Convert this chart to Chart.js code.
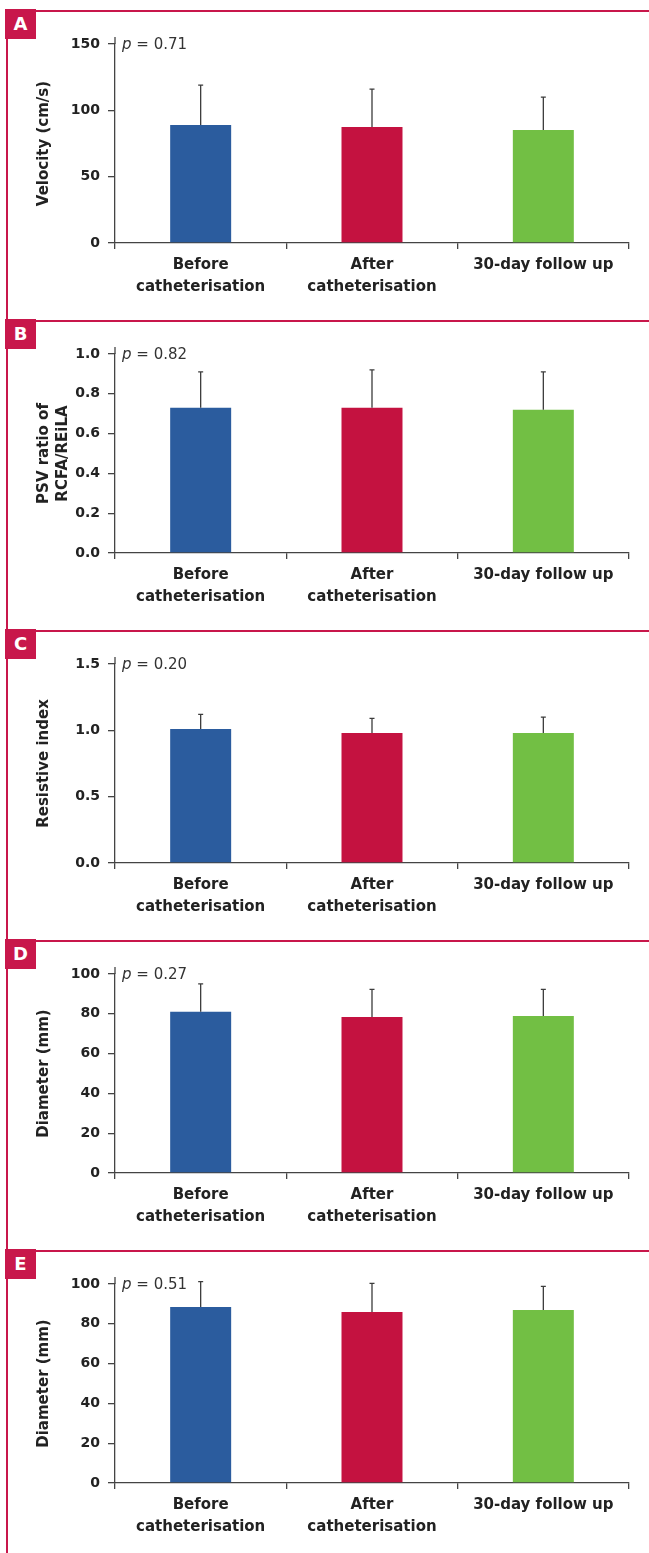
<!DOCTYPE html>
<html>
<head>
<meta charset="utf-8">
<script src="https://cdn.jsdelivr.net/npm/chart.js@4.4.1/dist/chart.umd.min.js"></script>
<style>
  body { margin: 0; background: #fff; }
  #page { position: relative; width: 649px; height: 1553px; overflow: hidden; }
  .panel { position: absolute; left: 0; width: 649px; height: 310px; }
  .panel canvas { position: absolute; left: 0; top: 0; }
  .rule { position: absolute; left: 30px; right: 0; top: 10px; height: 2px; background: #c8174b; }
  .tag { position: absolute; left: 5px; top: 9px; width: 31px; height: 30px; background: #c8174b;
         color: #fff; font: bold 18px "DejaVu Sans"; text-align: center; line-height: 30px; }
  #spine { position: absolute; left: 6px; top: 30px; width: 2px; bottom: 0; background: #c8174b; }
</style>
</head>
<body>
<div id="page"><div id="spine"></div></div>
<script>
const categories = [["Before", "catheterisation"], ["After", "catheterisation"], "30-day follow up"];
const barColors = ["#2b5c9e", "#c41240", "#72bf44"];

const velocityMean = [89, 87.4, 85.2];
const velocityUpper = [119, 116, 110];
const velocityTicks = [0, 50, 100, 150];

const psvMean = [0.73, 0.73, 0.72];
const psvUpper = [0.91, 0.92, 0.91];
const psvTicks = [0, 0.2, 0.4, 0.6, 0.8, 1.0];

const resistiveMean = [1.01, 0.98, 0.98];
const resistiveUpper = [1.12, 1.09, 1.10];
const resistiveTicks = [0, 0.5, 1.0, 1.5];

const diameterDMean = [81, 78.4, 78.9];
const diameterDUpper = [95, 92.3, 92.3];
const diameterEMean = [88.4, 85.9, 86.9];
const diameterEUpper = [101.2, 100.3, 98.8];
const diameterTicks = [0, 20, 40, 60, 80, 100];

const panelLetters = ["A", "B", "C", "D", "E"];
const pValues = ["0.71", "0.82", "0.20", "0.27", "0.51"];

const axisColor = "#444";
const textColor = "#222";
const fontFamily = "DejaVu Sans";

const panels = [
  { mean: velocityMean, upper: velocityUpper, ticks: velocityTicks, decimals: 0, title: "Velocity (cm/s)" },
  { mean: psvMean, upper: psvUpper, ticks: psvTicks, decimals: 1, title: ["PSV ratio of", "RCFA/REiLA"] },
  { mean: resistiveMean, upper: resistiveUpper, ticks: resistiveTicks, decimals: 1, title: "Resistive index" },
  { mean: diameterDMean, upper: diameterDUpper, ticks: diameterTicks, decimals: 0, title: "Diameter (mm)" },
  { mean: diameterEMean, upper: diameterEUpper, ticks: diameterTicks, decimals: 0, title: "Diameter (mm)" },
];

const page = document.getElementById("page");

panels.forEach((p, i) => {
  const box = document.createElement("div");
  box.className = "panel";
  box.style.top = (310 * i) + "px";
  box.innerHTML = `<canvas width="649" height="310"></canvas><div class="rule"></div><div class="tag">${panelLetters[i]}</div>`;
  page.appendChild(box);
  const ctx = box.querySelector("canvas").getContext("2d");

  // error bars, p value and the bit of y axis above the top tick
  const extras = {
    id: "extras" + i,
    afterDatasetsDraw(chart) {
      const c = chart.ctx;
      const y = chart.scales.y;
      c.save();
      c.strokeStyle = "#3c3c3c";
      c.lineWidth = 1.3;
      chart.getDatasetMeta(0).data.forEach((bar, k) => {
        const top = y.getPixelForValue(p.upper[k]);
        c.beginPath();
        c.moveTo(bar.x, bar.y);
        c.lineTo(bar.x, top);
        c.moveTo(bar.x - 2.5, top);
        c.lineTo(bar.x + 2.5, top);
        c.stroke();
      });
      c.restore();
    },
    afterDraw(chart) {
      const c = chart.ctx;
      const area = chart.chartArea;
      c.save();
      c.strokeStyle = axisColor;
      c.lineWidth = 1.3;
      c.beginPath();
      c.moveTo(area.left, area.top - 7);
      c.lineTo(area.left, area.top);
      c.stroke();
      c.fillStyle = "#333";
      c.textBaseline = "middle";
      c.font = "italic 15px " + fontFamily;
      const x0 = area.left + 7;
      c.fillText("p", x0, area.top + 1);
      const w = c.measureText("p").width;
      c.font = "15px " + fontFamily;
      c.fillText(" = " + pValues[i], x0 + w, area.top + 1);
      c.restore();
    }
  };

  new Chart(ctx, {
    type: "bar",
    data: {
      labels: categories,
      datasets: [{
        data: p.mean,
        backgroundColor: barColors,
        categoryPercentage: 1,
        barPercentage: 0.356,
      }],
    },
    options: {
      responsive: false,
      animation: false,
      devicePixelRatio: 1,
      layout: { padding: { left: 0, right: 20, top: 44, bottom: 0 } },
      plugins: { legend: { display: false }, tooltip: { enabled: false } },
      scales: {
        x: {
          z: 1,
          afterFit: (s) => { s.height = 67; },
          grid: { drawOnChartArea: false, tickLength: 6, color: axisColor, lineWidth: 1.3, offset: true },
          border: { display: true, color: axisColor, width: 1.3 },
          ticks: {
            padding: 5, color: textColor, maxRotation: 0, autoSkip: false,
            font: { family: fontFamily, weight: "bold", size: 15, lineHeight: 1.47 },
          },
        },
        y: {
          min: 0,
          max: p.ticks[p.ticks.length - 1],
          afterBuildTicks: (s) => { s.ticks = p.ticks.map((v) => ({ value: v })); },
          afterFit: (s) => { s.width = 115; },
          grid: { drawOnChartArea: false, tickLength: 7, color: axisColor, lineWidth: 1.3 },
          border: { display: true, color: axisColor, width: 1.3 },
          ticks: {
            padding: 8, color: textColor,
            font: { family: fontFamily, weight: "bold", size: 14 },
            callback: (v) => Number(v).toFixed(p.decimals),
          },
          title: {
            display: true, text: p.title, color: textColor,
            font: { family: fontFamily, weight: "bold", size: 15, lineHeight: 1.25 },
            padding: { top: 35, bottom: 0 },
          },
        },
      },
    },
    plugins: [extras],
  });
});
</script>
</body>
</html>
